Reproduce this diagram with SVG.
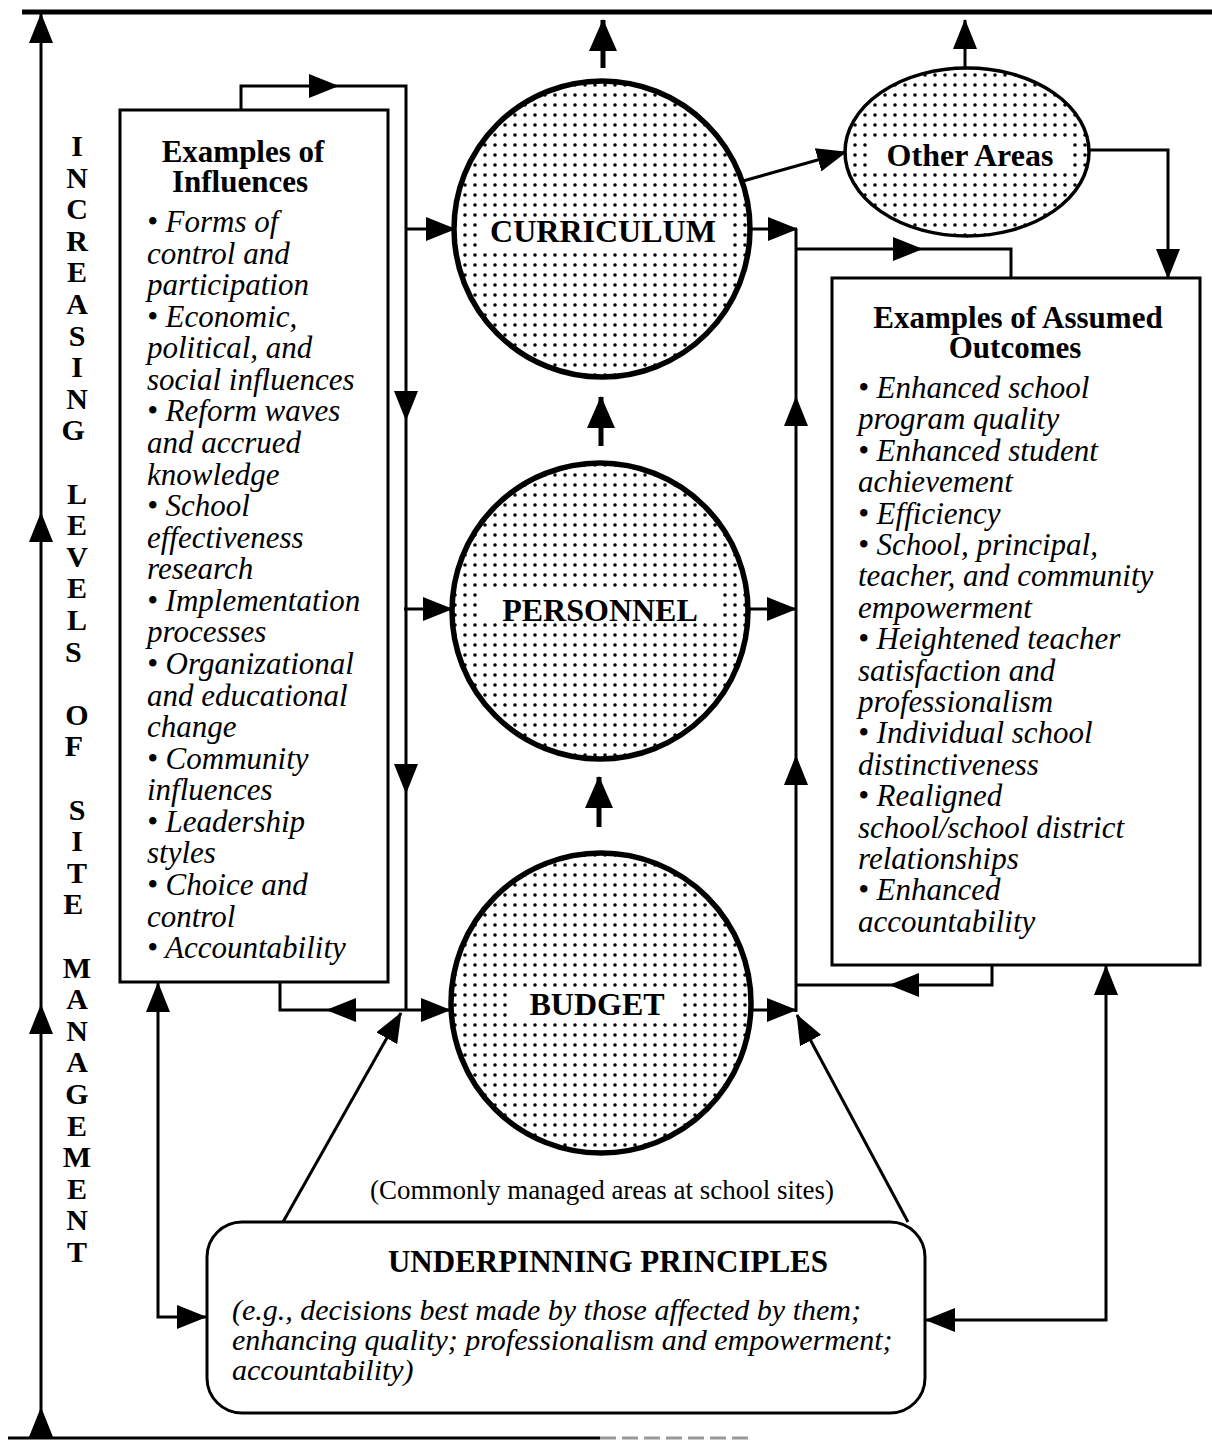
<svg xmlns="http://www.w3.org/2000/svg" width="1212" height="1440" viewBox="0 0 1212 1440">
<style>
.ln{fill:none;stroke:#000;stroke-width:3}
.tk{fill:none;stroke:#000;stroke-width:5}
.box{fill:#fff;stroke:#000;stroke-width:3}
.circ{fill:url(#dots);stroke:#000;stroke-width:5.5}
.ko{fill:#fff}
.lbl{font-family:"Liberation Serif","Times New Roman",serif;font-weight:bold;font-size:32px;text-anchor:middle}
.hd{font-family:"Liberation Serif","Times New Roman",serif;font-weight:bold;font-size:31px;text-anchor:middle}
.it{font-family:"Liberation Serif","Times New Roman",serif;font-style:italic;font-size:31px}
.vt{font-family:"Liberation Serif","Times New Roman",serif;font-weight:bold;font-size:30px;text-anchor:middle}
.cap{font-family:"Liberation Serif","Times New Roman",serif;font-size:27px;text-anchor:middle}
</style>
<defs>
<pattern id="dots" width="10" height="10" patternUnits="userSpaceOnUse">
<circle cx="5" cy="5" r="1.8" fill="#000"/>
</pattern>
<marker id="ah" viewBox="0 0 30 24" refX="29" refY="12" markerWidth="30" markerHeight="24" orient="auto-start-reverse" markerUnits="userSpaceOnUse">
<path d="M0,0 L30,12 L0,24 z" fill="#000"/>
</marker>
<marker id="ahb" viewBox="0 0 32 28" refX="31" refY="14" markerWidth="32" markerHeight="28" orient="auto" markerUnits="userSpaceOnUse">
<path d="M0,0 L32,14 L0,28 z" fill="#000"/>
</marker>
</defs>
<rect width="1212" height="1440" fill="#fff"/>

<g id="frame">
<path class="tk" d="M22,12 H1212"/>
<path class="ln" d="M8,1438 H600"/>
<path d="M600,1438 H750" fill="none" stroke="#999" stroke-width="3" stroke-dasharray="16,6"/>
</g>

<g id="connectors">
<path class="ln" d="M41,1438 V1408" marker-end="url(#ah)"/>
<path class="ln" d="M41,1408 V1005" marker-end="url(#ah)"/>
<path class="ln" d="M41,1005 V513" marker-end="url(#ah)"/>
<path class="ln" d="M41,513 V14" marker-end="url(#ah)"/>
<path class="ln" d="M241,110 V86 H338" marker-end="url(#ah)"/>
<path class="ln" d="M338,86 H406 V420" marker-end="url(#ah)"/>
<path class="ln" d="M406,420 V793" marker-end="url(#ah)"/>
<path class="ln" d="M406,793 V1010"/>
<path class="ln" d="M406,229 H455" marker-end="url(#ah)"/>
<path class="ln" d="M404,609 H452" marker-end="url(#ah)"/>
<path class="ln" d="M403,1010 H450" marker-end="url(#ah)"/>
<path class="ln" d="M403,1010 H327" marker-end="url(#ah)"/>
<path class="ln" d="M327,1010 H280 V982"/>
<path class="ln" d="M283,1222 L401,1013" marker-end="url(#ah)"/>
<path class="ln" d="M206,1317 H158 V983" marker-start="url(#ah)" marker-end="url(#ah)"/>
<path class="tk" d="M603,68 V20" marker-end="url(#ahb)"/>
<path class="tk" d="M601,446 V397" marker-end="url(#ahb)"/>
<path class="tk" d="M599,827 V777" marker-end="url(#ahb)"/>
<path class="ln" d="M965,68 V20" marker-end="url(#ah)"/>
<path class="ln" d="M743,181 L846,152" marker-end="url(#ah)"/>
<path class="ln" d="M1090,150 H1168 V278" marker-end="url(#ah)"/>
<path class="ln" d="M750,229 H797" marker-end="url(#ah)"/>
<path class="ln" d="M748,609 H796" marker-end="url(#ah)"/>
<path class="ln" d="M751,1010 H796" marker-end="url(#ah)"/>
<path class="ln" d="M796,1012 V756" marker-end="url(#ah)"/>
<path class="ln" d="M796,756 V397" marker-end="url(#ah)"/>
<path class="ln" d="M796,397 V229"/>
<path class="ln" d="M796,249 H922" marker-end="url(#ah)"/>
<path class="ln" d="M922,249 H1011 V278"/>
<path class="ln" d="M992,965 V985 H890" marker-end="url(#ah)"/>
<path class="ln" d="M890,985 H796"/>
<path class="ln" d="M908,1222 L797,1015" marker-end="url(#ah)"/>
<path class="ln" d="M926,1320 H1106 V966" marker-start="url(#ah)" marker-end="url(#ah)"/>
</g>

<g id="level-label">
<text class="vt">
<tspan x="77" y="156">I</tspan><tspan x="77" y="188">N</tspan><tspan x="77" y="219">C</tspan><tspan x="77" y="251">R</tspan><tspan x="77" y="282">E</tspan><tspan x="77" y="314">A</tspan><tspan x="77" y="346">S</tspan><tspan x="77" y="377">I</tspan><tspan x="77" y="409">N</tspan><tspan x="77" y="440">G</tspan>
<tspan x="77" y="504">L</tspan><tspan x="77" y="535">E</tspan><tspan x="77" y="567">V</tspan><tspan x="77" y="598">E</tspan><tspan x="77" y="630">L</tspan><tspan x="77" y="662">S</tspan>
<tspan x="77" y="725">O</tspan><tspan x="77" y="756">F</tspan>
<tspan x="77" y="820">S</tspan><tspan x="77" y="851">I</tspan><tspan x="77" y="883">T</tspan><tspan x="77" y="914">E</tspan>
<tspan x="77" y="978">M</tspan><tspan x="77" y="1009">A</tspan><tspan x="77" y="1041">N</tspan><tspan x="77" y="1072">A</tspan><tspan x="77" y="1104">G</tspan><tspan x="77" y="1136">E</tspan><tspan x="77" y="1167">M</tspan><tspan x="77" y="1199">E</tspan><tspan x="77" y="1230">N</tspan><tspan x="77" y="1262">T</tspan>
</text>
</g>

<g id="influences">
<rect class="box" x="120" y="110" width="268" height="872"/>
<text class="hd"><tspan x="243" y="162">Examples of</tspan><tspan x="240" y="192">Influences</tspan></text>
<text class="it">
<tspan x="147" y="232">• Forms of</tspan>
<tspan x="147" y="264">control and</tspan>
<tspan x="147" y="295">participation</tspan>
<tspan x="147" y="327">• Economic,</tspan>
<tspan x="147" y="358">political, and</tspan>
<tspan x="147" y="390">social influences</tspan>
<tspan x="147" y="421">• Reform waves</tspan>
<tspan x="147" y="453">and accrued</tspan>
<tspan x="147" y="485">knowledge</tspan>
<tspan x="147" y="516">• School</tspan>
<tspan x="147" y="548">effectiveness</tspan>
<tspan x="147" y="579">research</tspan>
<tspan x="147" y="611">• Implementation</tspan>
<tspan x="147" y="642">processes</tspan>
<tspan x="147" y="674">• Organizational</tspan>
<tspan x="147" y="706">and educational</tspan>
<tspan x="147" y="737">change</tspan>
<tspan x="147" y="769">• Community</tspan>
<tspan x="147" y="800">influences</tspan>
<tspan x="147" y="832">• Leadership</tspan>
<tspan x="147" y="863">styles</tspan>
<tspan x="147" y="895">• Choice and</tspan>
<tspan x="147" y="927">control</tspan>
<tspan x="147" y="958">• Accountability</tspan>
</text>
</g>

<g id="curriculum">
<circle class="circ" cx="602" cy="229" r="148"/>
<rect class="ko" x="478" y="219" width="250" height="32"/>
<text class="lbl" x="603" y="242">CURRICULUM</text>
</g>

<g id="personnel">
<circle class="circ" cx="600" cy="611" r="148"/>
<rect class="ko" x="480" y="590" width="242" height="30"/>
<text class="lbl" x="600" y="621">PERSONNEL</text>
</g>

<g id="budget">
<circle class="circ" cx="601" cy="1003" r="150"/>
<rect class="ko" x="511" y="987" width="170" height="34"/>
<text class="lbl" x="597" y="1015">BUDGET</text>
</g>

<g id="other-areas">
<ellipse cx="967" cy="152" rx="122" ry="84" fill="url(#dots)" stroke="#000" stroke-width="3.5"/>
<rect class="ko" x="870" y="137" width="197" height="35"/>
<text class="lbl" x="970" y="166">Other Areas</text>
</g>

<g id="outcomes">
<rect class="box" x="832" y="278" width="368" height="687"/>
<text class="hd"><tspan x="1018" y="328">Examples of Assumed</tspan><tspan x="1015" y="358">Outcomes</tspan></text>
<text class="it">
<tspan x="858" y="398">• Enhanced school</tspan>
<tspan x="858" y="429">program quality</tspan>
<tspan x="858" y="461">• Enhanced student</tspan>
<tspan x="858" y="492">achievement</tspan>
<tspan x="858" y="524">• Efficiency</tspan>
<tspan x="858" y="555">• School, principal,</tspan>
<tspan x="858" y="586">teacher, and community</tspan>
<tspan x="858" y="618">empowerment</tspan>
<tspan x="858" y="649">• Heightened teacher</tspan>
<tspan x="858" y="681">satisfaction and</tspan>
<tspan x="858" y="712">professionalism</tspan>
<tspan x="858" y="743">• Individual school</tspan>
<tspan x="858" y="775">distinctiveness</tspan>
<tspan x="858" y="806">• Realigned</tspan>
<tspan x="858" y="838">school/school district</tspan>
<tspan x="858" y="869">relationships</tspan>
<tspan x="858" y="900">• Enhanced</tspan>
<tspan x="858" y="932">accountability</tspan>
</text>
</g>

<g id="caption">
<text class="cap" x="602" y="1199">(Commonly managed areas at school sites)</text>
</g>

<g id="principles">
<rect class="box" x="207" y="1222" width="718" height="191" rx="35" ry="35"/>
<text class="hd" x="608" y="1272" style="font-size:31px">UNDERPINNING PRINCIPLES</text>
<text class="it" style="font-size:30px"><tspan x="232" y="1320">(e.g., decisions best made by those affected by them;</tspan><tspan x="232" y="1350">enhancing quality; professionalism and empowerment;</tspan><tspan x="232" y="1380">accountability)</tspan></text>
</g>
</svg>
